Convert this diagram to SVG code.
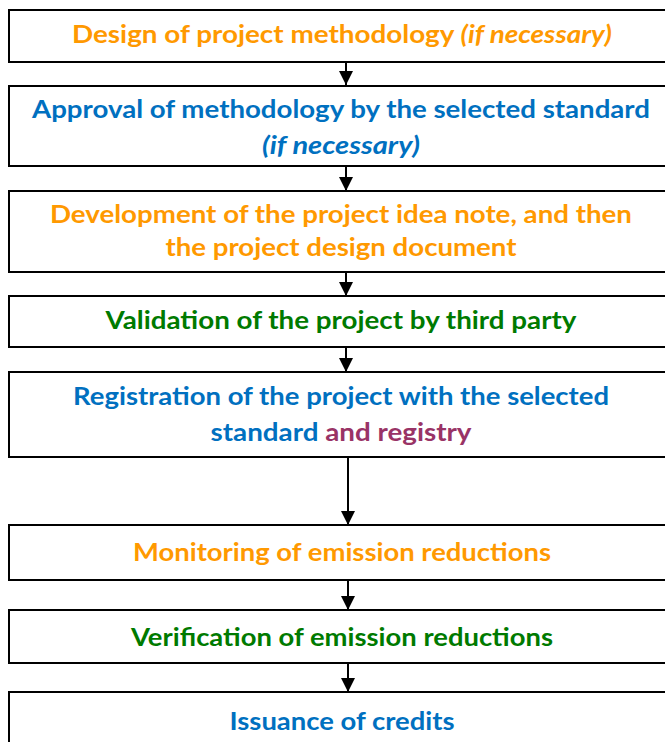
<svg xmlns="http://www.w3.org/2000/svg" width="665" height="742" viewBox="0 0 665 742">
<defs>
<marker id="ah" viewBox="0 0 12 14" refX="14" refY="7" markerWidth="14" markerHeight="14" markerUnits="userSpaceOnUse" orient="auto">
<path d="M0,0 L14,7 L0,14 Z" fill="#000"/>
</marker>
<style>
.box{fill:#fff;stroke:#000;stroke-width:2}
.t{font-family:Lato,"Liberation Sans",sans-serif;font-weight:bold;font-size:24px;text-anchor:middle}
.or{fill:#FF9900}.bl{fill:#0070C0}.gr{fill:#007A00}.pu{fill:#993366}
.i{font-style:italic}
.c{stroke:#000;stroke-width:2;fill:none}
</style>
</defs>
<rect width="665" height="742" fill="#fff"/>
<g id="connectors">
<line class="c" x1="346" y1="62" x2="346" y2="85" marker-end="url(#ah)"/>
<line class="c" x1="346" y1="166" x2="346" y2="191" marker-end="url(#ah)"/>
<line class="c" x1="346" y1="272" x2="346" y2="296" marker-end="url(#ah)"/>
<line class="c" x1="346" y1="347" x2="346" y2="372" marker-end="url(#ah)"/>
<line class="c" x1="348" y1="457" x2="348" y2="525" marker-end="url(#ah)"/>
<line class="c" x1="348" y1="580" x2="348" y2="610" marker-end="url(#ah)"/>
<line class="c" x1="348" y1="663" x2="348" y2="692" marker-end="url(#ah)"/>
</g>
<g id="n1"><rect class="box" x="9" y="10" width="670" height="52"/>
<text class="t or" x="342" y="43" textLength="540" lengthAdjust="spacingAndGlyphs">Design of project methodology <tspan class="i">(if necessary)</tspan></text></g>
<g id="n2"><rect class="box" x="9" y="86" width="670" height="80"/>
<text class="t bl" x="341" y="118" textLength="618" lengthAdjust="spacingAndGlyphs">Approval of methodology by the selected standard</text>
<text class="t bl i" x="341" y="154" textLength="158" lengthAdjust="spacingAndGlyphs">(if necessary)</text></g>
<g id="n3"><rect class="box" x="9" y="191" width="670" height="81"/>
<text class="t or" x="341" y="223" textLength="582" lengthAdjust="spacingAndGlyphs">Development of the project idea note, and then</text>
<text class="t or" x="341" y="256" textLength="351" lengthAdjust="spacingAndGlyphs">the project design document</text></g>
<g id="n4"><rect class="box" x="9" y="296" width="670" height="51"/>
<text class="t gr" x="341" y="329" textLength="471" lengthAdjust="spacingAndGlyphs">Validation of the project by third party</text></g>
<g id="n5"><rect class="box" x="9" y="372" width="670" height="85"/>
<text class="t bl" x="341" y="405" textLength="536" lengthAdjust="spacingAndGlyphs">Registration of the project with the selected</text>
<text class="t bl" x="341" y="441" textLength="261" lengthAdjust="spacingAndGlyphs">standard <tspan class="pu">and registry</tspan></text></g>
<g id="n6"><rect class="box" x="9" y="525" width="670" height="55"/>
<text class="t or" x="342" y="561" textLength="418" lengthAdjust="spacingAndGlyphs">Monitoring of emission reductions</text></g>
<g id="n7"><rect class="box" x="9" y="610" width="670" height="53"/>
<text class="t gr" x="342" y="646" textLength="422" lengthAdjust="spacingAndGlyphs">Verification of emission reductions</text></g>
<g id="n8"><rect class="box" x="9" y="692" width="670" height="60"/>
<text class="t bl" x="342" y="730" textLength="225" lengthAdjust="spacingAndGlyphs">Issuance of credits</text></g>
</svg>
